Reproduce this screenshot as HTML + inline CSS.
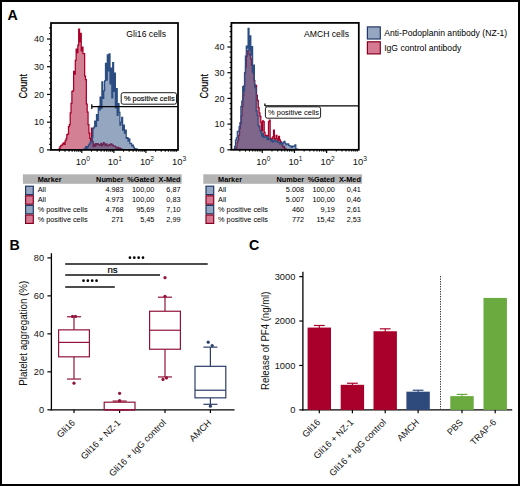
<!DOCTYPE html>
<html><head><meta charset="utf-8"><style>
html,body{margin:0;padding:0;background:#fff;}
body{width:520px;height:486px;overflow:hidden;}
svg{display:block;font-family:"Liberation Sans", sans-serif;}
text{fill:#000;}
text.th{fill:#111;}
text.bd{stroke:#000;stroke-width:0.2px;}
text.bd2{stroke:#000;stroke-width:0.12px;}
</style></head><body>
<svg width="520" height="486" viewBox="0 0 520 486">
<rect x="0" y="0" width="520" height="486" fill="#fff"/>
<clipPath id="cp10"><rect x="51.00" y="23.00" width="127.00" height="126.90"/></clipPath>
<g clip-path="url(#cp10)">
<path d="M51.50,149.60V149.60H52.35V149.60H53.20V149.60H54.05V149.60H54.90V149.60H55.75V149.60H56.60V149.60H57.45V149.60H58.30V149.60H59.15V148.28H60.00V146.68H60.85V145.29H61.70V145.16H62.55V143.99H63.40V142.85H64.25V144.39H65.10V140.78H65.95V138.93H66.80V134.69H67.65V134.20H68.50V126.66H69.35V124.55H70.20V112.86H71.05V103.25H71.90V91.39H72.75V90.91H73.60V71.34H74.45V74.12H75.30V60.31H76.15V49.06H77.00V52.50H77.85V45.03H78.70V29.05H79.55V41.65H80.40V33.47H81.25V50.92H82.10V47.08H82.95V53.65H83.80V53.66H84.65V76.21H85.50V79.74H86.35V104.14H87.20V112.01H88.05V124.73H88.90V133.18H89.75V138.32H90.60V140.64H91.45V128.19H92.30V141.40H93.15V146.63H94.00V144.14H94.85V146.07H95.70V143.60H96.55V144.59H97.40V143.60H98.25V144.74H99.10V144.96H99.95V145.30H100.80V143.36H101.65V145.87H102.50V144.30H103.35V142.51H104.20V144.07H105.05V145.66H105.90V143.88H106.75V145.16H107.60V145.58H108.45V145.42H109.30V144.45H110.15V144.89H111.00V143.80H111.85V144.89H112.70V145.38H113.55V146.11H114.40V146.05H115.25V146.63H116.10V147.79H116.95V148.32H117.80V147.27H118.65V149.18H119.50V148.03H120.35V148.57H121.20V149.27H122.05V149.37H122.90V149.60H123.75V149.60H124.60V149.60H125.45V149.60H126.30V149.60H127.15V149.60H128.00V149.60H128.85V149.60H129.70V149.60H130.55V149.60H131.40V149.60H132.25V149.60H133.10V149.60H133.95V149.60H134.80V149.60H135.65V149.60H136.50V149.60H137.35V149.60H138.20V149.60H139.05V149.60H139.90V149.60H140.75V149.60H141.60V149.60H142.45V149.60H143.30V149.60H144.15V149.60H145.00V149.60H145.85V149.60H146.70V149.60H147.55V149.60H148.40V149.60H149.25V149.60H150.10V149.60H150.95V149.60H151.80V149.60H152.65V149.60H153.50V149.60H154.35V149.60H155.20V149.60H156.05V149.60H156.90V149.60H157.75V149.60H158.60V149.60H159.45V149.60H160.30V149.60H161.15V149.60H162.00V149.60H162.85V149.60H163.70V149.60H164.55V149.60H165.40V149.60H166.25V149.60H167.10V149.60H167.95V149.60H168.80V149.60H169.65V149.60H170.50V149.60H171.35V149.60H172.20V149.60H173.05V149.60H173.90V149.60H174.75V149.60H175.60V149.60H176.45V149.60H177.30V149.60Z" fill="#a8002a" fill-opacity="0.5" stroke="#a8002a" stroke-width="1.25" stroke-linejoin="miter"/>
<path d="M51.50,149.60V149.60H52.40V149.60H53.30V149.60H54.20V149.60H55.10V149.60H56.00V149.60H56.90V149.60H57.80V149.60H58.70V149.60H59.60V149.60H60.50V149.60H61.40V149.60H62.30V149.60H63.20V149.60H64.10V149.60H65.00V149.60H65.90V149.60H66.80V149.60H67.70V149.60H68.60V149.60H69.50V149.60H70.40V149.60H71.30V149.60H72.20V149.60H73.10V149.60H74.00V149.60H74.90V149.60H75.80V149.60H76.70V149.60H77.60V149.60H78.50V149.60H79.40V149.60H80.30V149.60H81.20V149.60H82.10V149.60H83.00V149.60H83.90V149.20H84.80V148.45H85.70V146.66H86.60V148.09H87.50V146.72H88.40V145.08H89.30V143.94H90.20V141.95H91.10V142.20H92.00V137.04H92.90V128.71H93.80V127.10H94.70V121.15H95.60V126.45H96.50V114.74H97.40V120.36H98.30V106.26H99.20V110.22H100.10V97.18H101.00V108.31H101.90V81.75H102.80V98.40H103.70V90.90H104.60V80.78H105.50V63.49H106.40V80.01H107.30V54.89H108.20V70.84H109.10V53.93H110.00V83.81H110.90V68.21H111.80V97.87H112.70V62.71H113.60V91.48H114.50V73.23H115.40V107.76H116.30V88.68H117.20V115.42H118.10V103.52H119.00V112.39H119.90V125.17H120.80V122.37H121.70V117.31H122.60V130.01H123.50V125.04H124.40V133.12H125.30V130.19H126.20V138.45H127.10V137.55H128.00V141.15H128.90V138.90H129.80V143.58H130.70V143.33H131.60V145.95H132.50V145.19H133.40V147.11H134.30V148.78H135.20V148.69H136.10V149.17H137.00V149.38H137.90V149.60H138.80V149.60H139.70V149.60H140.60V149.60H141.50V149.60H142.40V149.60H143.30V149.60H144.20V149.60H145.10V149.60H146.00V149.60H146.90V149.60H147.80V149.60H148.70V149.60H149.60V149.60H150.50V149.60H151.40V149.60H152.30V149.60H153.20V149.60H154.10V149.60H155.00V149.60H155.90V149.60H156.80V149.60H157.70V149.60H158.60V149.60H159.50V149.60H160.40V149.60H161.30V149.60H162.20V149.60H163.10V149.60H164.00V149.60H164.90V149.60H165.80V149.60H166.70V149.60H167.60V149.60H168.50V149.60H169.40V149.60H170.30V149.60H171.20V149.60H172.10V149.60H173.00V149.60H173.90V149.60H174.80V149.60H175.70V149.60H176.60V149.60H177.50V149.60Z" fill="#2b4d81" fill-opacity="0.5" stroke="#2b4d81" stroke-width="1.25" stroke-linejoin="miter"/>
</g>
<rect x="51.00" y="23.00" width="127.00" height="126.90" fill="none" stroke="#000" stroke-width="1.75"/>
<line x1="47.00" y1="149.90" x2="51.00" y2="149.90" stroke="#000" stroke-width="1.2" />
<text x="44.10" y="153.10" font-size="9.0" text-anchor="end" font-weight="normal" class="th">0</text>
<line x1="49.20" y1="144.36" x2="51.00" y2="144.36" stroke="#000" stroke-width="1.1" />
<line x1="49.20" y1="138.81" x2="51.00" y2="138.81" stroke="#000" stroke-width="1.1" />
<line x1="49.20" y1="133.27" x2="51.00" y2="133.27" stroke="#000" stroke-width="1.1" />
<line x1="49.20" y1="127.72" x2="51.00" y2="127.72" stroke="#000" stroke-width="1.1" />
<line x1="47.00" y1="122.18" x2="51.00" y2="122.18" stroke="#000" stroke-width="1.2" />
<text x="44.10" y="125.38" font-size="9.0" text-anchor="end" font-weight="normal" class="th">10</text>
<line x1="49.20" y1="116.63" x2="51.00" y2="116.63" stroke="#000" stroke-width="1.1" />
<line x1="49.20" y1="111.09" x2="51.00" y2="111.09" stroke="#000" stroke-width="1.1" />
<line x1="49.20" y1="105.54" x2="51.00" y2="105.54" stroke="#000" stroke-width="1.1" />
<line x1="49.20" y1="100.00" x2="51.00" y2="100.00" stroke="#000" stroke-width="1.1" />
<line x1="47.00" y1="94.45" x2="51.00" y2="94.45" stroke="#000" stroke-width="1.2" />
<text x="44.10" y="97.65" font-size="9.0" text-anchor="end" font-weight="normal" class="th">20</text>
<line x1="49.20" y1="88.91" x2="51.00" y2="88.91" stroke="#000" stroke-width="1.1" />
<line x1="49.20" y1="83.36" x2="51.00" y2="83.36" stroke="#000" stroke-width="1.1" />
<line x1="49.20" y1="77.82" x2="51.00" y2="77.82" stroke="#000" stroke-width="1.1" />
<line x1="49.20" y1="72.27" x2="51.00" y2="72.27" stroke="#000" stroke-width="1.1" />
<line x1="47.00" y1="66.73" x2="51.00" y2="66.73" stroke="#000" stroke-width="1.2" />
<text x="44.10" y="69.93" font-size="9.0" text-anchor="end" font-weight="normal" class="th">30</text>
<line x1="49.20" y1="61.18" x2="51.00" y2="61.18" stroke="#000" stroke-width="1.1" />
<line x1="49.20" y1="55.64" x2="51.00" y2="55.64" stroke="#000" stroke-width="1.1" />
<line x1="49.20" y1="50.09" x2="51.00" y2="50.09" stroke="#000" stroke-width="1.1" />
<line x1="49.20" y1="44.55" x2="51.00" y2="44.55" stroke="#000" stroke-width="1.1" />
<line x1="47.00" y1="39.00" x2="51.00" y2="39.00" stroke="#000" stroke-width="1.2" />
<text x="44.10" y="42.20" font-size="9.0" text-anchor="end" font-weight="normal" class="th">40</text>
<line x1="49.20" y1="33.46" x2="51.00" y2="33.46" stroke="#000" stroke-width="1.1" />
<line x1="49.20" y1="27.91" x2="51.00" y2="27.91" stroke="#000" stroke-width="1.1" />
<line x1="59.39" y1="149.90" x2="59.39" y2="151.70" stroke="#000" stroke-width="1.1" />
<line x1="65.03" y1="149.90" x2="65.03" y2="151.70" stroke="#000" stroke-width="1.1" />
<line x1="69.04" y1="149.90" x2="69.04" y2="151.70" stroke="#000" stroke-width="1.1" />
<line x1="72.15" y1="149.90" x2="72.15" y2="151.70" stroke="#000" stroke-width="1.1" />
<line x1="74.69" y1="149.90" x2="74.69" y2="151.70" stroke="#000" stroke-width="1.1" />
<line x1="76.83" y1="149.90" x2="76.83" y2="151.70" stroke="#000" stroke-width="1.1" />
<line x1="78.69" y1="149.90" x2="78.69" y2="151.70" stroke="#000" stroke-width="1.1" />
<line x1="80.33" y1="149.90" x2="80.33" y2="151.70" stroke="#000" stroke-width="1.1" />
<line x1="81.80" y1="149.90" x2="81.80" y2="153.10" stroke="#000" stroke-width="1.2" />
<line x1="91.45" y1="149.90" x2="91.45" y2="151.70" stroke="#000" stroke-width="1.1" />
<line x1="97.10" y1="149.90" x2="97.10" y2="151.70" stroke="#000" stroke-width="1.1" />
<line x1="101.11" y1="149.90" x2="101.11" y2="151.70" stroke="#000" stroke-width="1.1" />
<line x1="104.21" y1="149.90" x2="104.21" y2="151.70" stroke="#000" stroke-width="1.1" />
<line x1="106.75" y1="149.90" x2="106.75" y2="151.70" stroke="#000" stroke-width="1.1" />
<line x1="108.90" y1="149.90" x2="108.90" y2="151.70" stroke="#000" stroke-width="1.1" />
<line x1="110.76" y1="149.90" x2="110.76" y2="151.70" stroke="#000" stroke-width="1.1" />
<line x1="112.40" y1="149.90" x2="112.40" y2="151.70" stroke="#000" stroke-width="1.1" />
<line x1="113.87" y1="149.90" x2="113.87" y2="153.10" stroke="#000" stroke-width="1.2" />
<line x1="123.52" y1="149.90" x2="123.52" y2="151.70" stroke="#000" stroke-width="1.1" />
<line x1="129.17" y1="149.90" x2="129.17" y2="151.70" stroke="#000" stroke-width="1.1" />
<line x1="133.17" y1="149.90" x2="133.17" y2="151.70" stroke="#000" stroke-width="1.1" />
<line x1="136.28" y1="149.90" x2="136.28" y2="151.70" stroke="#000" stroke-width="1.1" />
<line x1="138.82" y1="149.90" x2="138.82" y2="151.70" stroke="#000" stroke-width="1.1" />
<line x1="140.97" y1="149.90" x2="140.97" y2="151.70" stroke="#000" stroke-width="1.1" />
<line x1="142.83" y1="149.90" x2="142.83" y2="151.70" stroke="#000" stroke-width="1.1" />
<line x1="144.47" y1="149.90" x2="144.47" y2="151.70" stroke="#000" stroke-width="1.1" />
<line x1="145.93" y1="149.90" x2="145.93" y2="153.10" stroke="#000" stroke-width="1.2" />
<line x1="155.59" y1="149.90" x2="155.59" y2="151.70" stroke="#000" stroke-width="1.1" />
<line x1="161.23" y1="149.90" x2="161.23" y2="151.70" stroke="#000" stroke-width="1.1" />
<line x1="165.24" y1="149.90" x2="165.24" y2="151.70" stroke="#000" stroke-width="1.1" />
<line x1="168.35" y1="149.90" x2="168.35" y2="151.70" stroke="#000" stroke-width="1.1" />
<line x1="170.89" y1="149.90" x2="170.89" y2="151.70" stroke="#000" stroke-width="1.1" />
<line x1="173.03" y1="149.90" x2="173.03" y2="151.70" stroke="#000" stroke-width="1.1" />
<line x1="174.89" y1="149.90" x2="174.89" y2="151.70" stroke="#000" stroke-width="1.1" />
<line x1="176.53" y1="149.90" x2="176.53" y2="151.70" stroke="#000" stroke-width="1.1" />
<text x="82.80" y="164.80" font-size="9.4" text-anchor="middle" class="th">10<tspan font-size="6.6" dy="-4.0">0</tspan></text>
<text x="114.87" y="164.80" font-size="9.4" text-anchor="middle" class="th">10<tspan font-size="6.6" dy="-4.0">1</tspan></text>
<text x="146.93" y="164.80" font-size="9.4" text-anchor="middle" class="th">10<tspan font-size="6.6" dy="-4.0">2</tspan></text>
<text x="179.00" y="164.80" font-size="9.4" text-anchor="middle" class="th">10<tspan font-size="6.6" dy="-4.0">3</tspan></text>
<text transform="translate(27.40,86.30) rotate(-90) scale(0.85,1)" font-size="10.8" text-anchor="middle" class="bd">Count</text>
<text x="126.30" y="37.40" font-size="8.65" text-anchor="start" font-weight="normal" >Gli16 cells</text>
<clipPath id="cp20"><rect x="231.40" y="22.90" width="127.40" height="126.90"/></clipPath>
<g clip-path="url(#cp20)">
<path d="M231.90,149.60V149.60H232.75V149.60H233.60V149.60H234.45V149.60H235.30V148.68H236.15V147.52H237.00V142.66H237.85V140.24H238.70V135.26H239.55V128.42H240.40V123.61H241.25V115.89H242.10V106.87H242.95V95.65H243.80V85.89H244.65V73.16H245.50V67.04H246.35V56.34H247.20V50.95H248.05V50.61H248.90V54.05H249.75V55.15H250.60V58.93H251.45V65.03H252.30V71.00H253.15V72.51H254.00V80.74H254.85V86.82H255.70V85.33H256.55V95.40H257.40V100.33H258.25V107.61H259.10V112.90H259.95V116.37H260.80V122.48H261.65V130.93H262.50V120.75H263.35V121.65H264.20V132.36H265.05V135.92H265.90V135.32H266.75V135.50H267.60V136.16H268.45V121.90H269.30V120.00H270.15V138.16H271.00V139.25H271.85V138.67H272.70V136.84H273.55V130.09H274.40V139.02H275.25V138.64H276.10V135.36H276.95V138.79H277.80V140.69H278.65V136.29H279.50V139.86H280.35V141.66H281.20V142.64H282.05V145.92H282.90V147.01H283.75V146.45H284.60V148.42H285.45V148.77H286.30V149.51H287.15V149.60H288.00V149.60H288.85V149.60H289.70V149.60H290.55V149.60H291.40V149.60H292.25V149.60H293.10V149.60H293.95V149.60H294.80V149.60H295.65V149.60H296.50V149.60H297.35V149.60H298.20V149.60H299.05V149.60H299.90V149.60H300.75V149.60H301.60V149.60H302.45V149.60H303.30V149.60H304.15V149.60H305.00V149.60H305.85V149.60H306.70V149.60H307.55V149.60H308.40V149.60H309.25V149.60H310.10V149.60H310.95V149.60H311.80V149.60H312.65V149.60H313.50V149.60H314.35V149.60H315.20V149.60H316.05V149.60H316.90V149.60H317.75V149.60H318.60V149.60H319.45V149.60H320.30V149.60H321.15V149.60H322.00V149.60H322.85V149.60H323.70V149.60H324.55V149.60H325.40V149.60H326.25V149.60H327.10V149.60H327.95V149.60H328.80V149.60H329.65V149.60H330.50V149.60H331.35V149.60H332.20V149.60H333.05V149.60H333.90V149.60H334.75V149.60H335.60V149.60H336.45V149.60H337.30V149.60H338.15V149.60H339.00V149.60H339.85V149.60H340.70V149.60H341.55V149.60H342.40V149.60H343.25V149.60H344.10V149.60H344.95V149.60H345.80V149.60H346.65V149.60H347.50V149.60H348.35V149.60H349.20V149.60H350.05V149.60H350.90V149.60H351.75V149.60H352.60V149.60H353.45V149.60H354.30V149.60H355.15V149.60H356.00V149.60H356.85V149.60H357.70V149.60H358.55V149.60Z" fill="#a8002a" fill-opacity="0.5" stroke="#a8002a" stroke-width="1.25" stroke-linejoin="miter"/>
<path d="M231.90,149.60V149.60H232.80V149.60H233.70V149.34H234.60V146.42H235.50V140.03H236.40V137.85H237.30V131.70H238.20V131.03H239.10V126.63H240.00V122.71H240.90V106.44H241.80V101.17H242.70V86.66H243.60V91.19H244.50V72.99H245.40V56.22H246.30V46.18H247.20V48.15H248.10V28.49H249.00V50.13H249.90V35.97H250.80V55.13H251.70V46.58H252.60V72.52H253.50V65.05H254.40V84.92H255.30V87.89H256.20V110.86H257.10V115.14H258.00V125.37H258.90V126.66H259.80V130.30H260.70V132.25H261.60V136.00H262.50V133.69H263.40V137.42H264.30V136.97H265.20V136.85H266.10V136.69H267.00V139.51H267.90V137.41H268.80V139.43H269.70V139.29H270.60V140.75H271.50V140.07H272.40V142.23H273.30V141.03H274.20V140.24H275.10V140.47H276.00V141.73H276.90V141.70H277.80V142.44H278.70V142.27H279.60V143.95H280.50V142.83H281.40V143.96H282.30V144.18H283.20V142.01H284.10V141.29H285.00V143.28H285.90V144.55H286.80V144.07H287.70V143.99H288.60V145.36H289.50V145.88H290.40V146.13H291.30V147.34H292.20V146.14H293.10V146.38H294.00V146.17H294.90V144.83H295.80V149.02H296.70V149.13H297.60V149.60H298.50V149.60H299.40V149.60H300.30V149.60H301.20V149.60H302.10V149.60H303.00V149.60H303.90V149.60H304.80V149.60H305.70V149.60H306.60V149.60H307.50V149.60H308.40V149.60H309.30V149.60H310.20V149.60H311.10V149.60H312.00V149.60H312.90V149.60H313.80V149.60H314.70V149.60H315.60V149.60H316.50V149.60H317.40V149.60H318.30V149.60H319.20V149.60H320.10V149.60H321.00V149.60H321.90V149.60H322.80V149.60H323.70V149.60H324.60V149.60H325.50V149.60H326.40V149.60H327.30V149.60H328.20V149.60H329.10V149.60H330.00V149.60H330.90V149.60H331.80V149.60H332.70V149.60H333.60V149.60H334.50V149.60H335.40V149.60H336.30V149.60H337.20V149.60H338.10V149.60H339.00V149.60H339.90V149.60H340.80V149.60H341.70V149.60H342.60V149.60H343.50V149.60H344.40V149.60H345.30V149.60H346.20V149.60H347.10V149.60H348.00V149.60H348.90V149.60H349.80V149.60H350.70V149.60H351.60V149.60H352.50V149.60H353.40V149.60H354.30V149.60H355.20V149.60H356.10V149.60H357.00V149.60H357.90V149.60Z" fill="#2b4d81" fill-opacity="0.5" stroke="#2b4d81" stroke-width="1.25" stroke-linejoin="miter"/>
</g>
<rect x="231.40" y="22.90" width="127.40" height="126.90" fill="none" stroke="#000" stroke-width="1.75"/>
<line x1="227.40" y1="149.80" x2="231.40" y2="149.80" stroke="#000" stroke-width="1.2" />
<text x="224.50" y="153.00" font-size="9.0" text-anchor="end" font-weight="normal" class="th">0</text>
<line x1="229.60" y1="144.66" x2="231.40" y2="144.66" stroke="#000" stroke-width="1.1" />
<line x1="229.60" y1="139.52" x2="231.40" y2="139.52" stroke="#000" stroke-width="1.1" />
<line x1="229.60" y1="134.38" x2="231.40" y2="134.38" stroke="#000" stroke-width="1.1" />
<line x1="229.60" y1="129.24" x2="231.40" y2="129.24" stroke="#000" stroke-width="1.1" />
<line x1="227.40" y1="124.10" x2="231.40" y2="124.10" stroke="#000" stroke-width="1.2" />
<text x="224.50" y="127.30" font-size="9.0" text-anchor="end" font-weight="normal" class="th">10</text>
<line x1="229.60" y1="118.96" x2="231.40" y2="118.96" stroke="#000" stroke-width="1.1" />
<line x1="229.60" y1="113.82" x2="231.40" y2="113.82" stroke="#000" stroke-width="1.1" />
<line x1="229.60" y1="108.68" x2="231.40" y2="108.68" stroke="#000" stroke-width="1.1" />
<line x1="229.60" y1="103.54" x2="231.40" y2="103.54" stroke="#000" stroke-width="1.1" />
<line x1="227.40" y1="98.40" x2="231.40" y2="98.40" stroke="#000" stroke-width="1.2" />
<text x="224.50" y="101.60" font-size="9.0" text-anchor="end" font-weight="normal" class="th">20</text>
<line x1="229.60" y1="93.26" x2="231.40" y2="93.26" stroke="#000" stroke-width="1.1" />
<line x1="229.60" y1="88.12" x2="231.40" y2="88.12" stroke="#000" stroke-width="1.1" />
<line x1="229.60" y1="82.98" x2="231.40" y2="82.98" stroke="#000" stroke-width="1.1" />
<line x1="229.60" y1="77.84" x2="231.40" y2="77.84" stroke="#000" stroke-width="1.1" />
<line x1="227.40" y1="72.70" x2="231.40" y2="72.70" stroke="#000" stroke-width="1.2" />
<text x="224.50" y="75.90" font-size="9.0" text-anchor="end" font-weight="normal" class="th">30</text>
<line x1="229.60" y1="67.56" x2="231.40" y2="67.56" stroke="#000" stroke-width="1.1" />
<line x1="229.60" y1="62.42" x2="231.40" y2="62.42" stroke="#000" stroke-width="1.1" />
<line x1="229.60" y1="57.28" x2="231.40" y2="57.28" stroke="#000" stroke-width="1.1" />
<line x1="229.60" y1="52.14" x2="231.40" y2="52.14" stroke="#000" stroke-width="1.1" />
<line x1="227.40" y1="47.00" x2="231.40" y2="47.00" stroke="#000" stroke-width="1.2" />
<text x="224.50" y="50.20" font-size="9.0" text-anchor="end" font-weight="normal" class="th">40</text>
<line x1="229.60" y1="41.86" x2="231.40" y2="41.86" stroke="#000" stroke-width="1.1" />
<line x1="229.60" y1="36.72" x2="231.40" y2="36.72" stroke="#000" stroke-width="1.1" />
<line x1="229.60" y1="31.58" x2="231.40" y2="31.58" stroke="#000" stroke-width="1.1" />
<line x1="229.60" y1="26.44" x2="231.40" y2="26.44" stroke="#000" stroke-width="1.1" />
<line x1="239.82" y1="149.80" x2="239.82" y2="151.60" stroke="#000" stroke-width="1.1" />
<line x1="245.48" y1="149.80" x2="245.48" y2="151.60" stroke="#000" stroke-width="1.1" />
<line x1="249.50" y1="149.80" x2="249.50" y2="151.60" stroke="#000" stroke-width="1.1" />
<line x1="252.62" y1="149.80" x2="252.62" y2="151.60" stroke="#000" stroke-width="1.1" />
<line x1="255.16" y1="149.80" x2="255.16" y2="151.60" stroke="#000" stroke-width="1.1" />
<line x1="257.32" y1="149.80" x2="257.32" y2="151.60" stroke="#000" stroke-width="1.1" />
<line x1="259.18" y1="149.80" x2="259.18" y2="151.60" stroke="#000" stroke-width="1.1" />
<line x1="260.83" y1="149.80" x2="260.83" y2="151.60" stroke="#000" stroke-width="1.1" />
<line x1="262.30" y1="149.80" x2="262.30" y2="153.00" stroke="#000" stroke-width="1.2" />
<line x1="271.98" y1="149.80" x2="271.98" y2="151.60" stroke="#000" stroke-width="1.1" />
<line x1="277.65" y1="149.80" x2="277.65" y2="151.60" stroke="#000" stroke-width="1.1" />
<line x1="281.67" y1="149.80" x2="281.67" y2="151.60" stroke="#000" stroke-width="1.1" />
<line x1="284.78" y1="149.80" x2="284.78" y2="151.60" stroke="#000" stroke-width="1.1" />
<line x1="287.33" y1="149.80" x2="287.33" y2="151.60" stroke="#000" stroke-width="1.1" />
<line x1="289.48" y1="149.80" x2="289.48" y2="151.60" stroke="#000" stroke-width="1.1" />
<line x1="291.35" y1="149.80" x2="291.35" y2="151.60" stroke="#000" stroke-width="1.1" />
<line x1="292.99" y1="149.80" x2="292.99" y2="151.60" stroke="#000" stroke-width="1.1" />
<line x1="294.47" y1="149.80" x2="294.47" y2="153.00" stroke="#000" stroke-width="1.2" />
<line x1="304.15" y1="149.80" x2="304.15" y2="151.60" stroke="#000" stroke-width="1.1" />
<line x1="309.81" y1="149.80" x2="309.81" y2="151.60" stroke="#000" stroke-width="1.1" />
<line x1="313.83" y1="149.80" x2="313.83" y2="151.60" stroke="#000" stroke-width="1.1" />
<line x1="316.95" y1="149.80" x2="316.95" y2="151.60" stroke="#000" stroke-width="1.1" />
<line x1="319.50" y1="149.80" x2="319.50" y2="151.60" stroke="#000" stroke-width="1.1" />
<line x1="321.65" y1="149.80" x2="321.65" y2="151.60" stroke="#000" stroke-width="1.1" />
<line x1="323.52" y1="149.80" x2="323.52" y2="151.60" stroke="#000" stroke-width="1.1" />
<line x1="325.16" y1="149.80" x2="325.16" y2="151.60" stroke="#000" stroke-width="1.1" />
<line x1="326.63" y1="149.80" x2="326.63" y2="153.00" stroke="#000" stroke-width="1.2" />
<line x1="336.32" y1="149.80" x2="336.32" y2="151.60" stroke="#000" stroke-width="1.1" />
<line x1="341.98" y1="149.80" x2="341.98" y2="151.60" stroke="#000" stroke-width="1.1" />
<line x1="346.00" y1="149.80" x2="346.00" y2="151.60" stroke="#000" stroke-width="1.1" />
<line x1="349.12" y1="149.80" x2="349.12" y2="151.60" stroke="#000" stroke-width="1.1" />
<line x1="351.66" y1="149.80" x2="351.66" y2="151.60" stroke="#000" stroke-width="1.1" />
<line x1="353.82" y1="149.80" x2="353.82" y2="151.60" stroke="#000" stroke-width="1.1" />
<line x1="355.68" y1="149.80" x2="355.68" y2="151.60" stroke="#000" stroke-width="1.1" />
<line x1="357.33" y1="149.80" x2="357.33" y2="151.60" stroke="#000" stroke-width="1.1" />
<text x="263.30" y="164.80" font-size="9.4" text-anchor="middle" class="th">10<tspan font-size="6.6" dy="-4.0">0</tspan></text>
<text x="295.47" y="164.80" font-size="9.4" text-anchor="middle" class="th">10<tspan font-size="6.6" dy="-4.0">1</tspan></text>
<text x="327.63" y="164.80" font-size="9.4" text-anchor="middle" class="th">10<tspan font-size="6.6" dy="-4.0">2</tspan></text>
<text x="359.80" y="164.80" font-size="9.4" text-anchor="middle" class="th">10<tspan font-size="6.6" dy="-4.0">3</tspan></text>
<text transform="translate(207.80,86.30) rotate(-90) scale(0.85,1)" font-size="10.8" text-anchor="middle" class="bd">Count</text>
<text x="304.00" y="37.40" font-size="8.65" text-anchor="start" font-weight="normal" >AMCH cells</text>
<line x1="91.80" y1="106.60" x2="177.70" y2="106.60" stroke="#000" stroke-width="1.2" />
<line x1="91.80" y1="104.30" x2="91.80" y2="109.00" stroke="#000" stroke-width="1.2" />
<rect x="121.20" y="92.70" width="55.30" height="11.50" rx="2" ry="2" fill="#fff" stroke="#000" stroke-width="0.9"/>
<text x="123.90" y="101.20" font-size="7.45" text-anchor="start" font-weight="normal" class="bd2">% positive cells</text>
<line x1="264.90" y1="105.90" x2="358.20" y2="105.90" stroke="#000" stroke-width="1.2" />
<line x1="264.90" y1="103.40" x2="264.90" y2="105.90" stroke="#000" stroke-width="1.2" />
<rect x="265.40" y="106.80" width="55.20" height="11.40" rx="2" ry="2" fill="#fff" stroke="#000" stroke-width="0.9"/>
<text x="268.10" y="115.20" font-size="7.45" text-anchor="start" font-weight="normal" >% positive cells</text>
<rect x="367.4" y="26.9" width="12.9" height="12.1" fill="#95a6c0" stroke="#23386a" stroke-width="1.2"/>
<rect x="367.4" y="41.8" width="12.9" height="12.1" fill="#d57a92" stroke="#86001f" stroke-width="1.2"/>
<text x="384.20" y="36.30" font-size="8.62" text-anchor="start" font-weight="normal" >Anti-Podoplanin antibody (NZ-1)</text>
<text x="384.20" y="51.00" font-size="8.62" text-anchor="start" font-weight="normal" >IgG control antibody</text>
<rect x="22.90" y="174.3" width="158.8" height="9.5" fill="#b3b3b3"/>
<text x="37.70" y="181.90" font-size="7.3" text-anchor="start" font-weight="bold" >Marker</text>
<text x="123.70" y="181.90" font-size="7.3" text-anchor="end" font-weight="bold" >Number</text>
<text x="154.40" y="181.90" font-size="7.3" text-anchor="end" font-weight="bold" >%Gated</text>
<text x="180.50" y="181.90" font-size="7.3" text-anchor="end" font-weight="bold" >X-Med</text>
<rect x="25.60" y="186.20" width="7.7" height="8.4" fill="#95a6c0" stroke="#23386a" stroke-width="1.2"/>
<text x="37.70" y="192.40" font-size="7.3" text-anchor="start" font-weight="normal" >All</text>
<text x="123.70" y="192.40" font-size="7.3" text-anchor="end" font-weight="normal" >4.983</text>
<text x="154.40" y="192.40" font-size="7.3" text-anchor="end" font-weight="normal" >100,00</text>
<text x="180.50" y="192.40" font-size="7.3" text-anchor="end" font-weight="normal" >6,87</text>
<rect x="25.60" y="195.80" width="7.7" height="8.4" fill="#d57a92" stroke="#86001f" stroke-width="1.2"/>
<text x="37.70" y="202.25" font-size="7.3" text-anchor="start" font-weight="normal" >All</text>
<text x="123.70" y="202.25" font-size="7.3" text-anchor="end" font-weight="normal" >4.973</text>
<text x="154.40" y="202.25" font-size="7.3" text-anchor="end" font-weight="normal" >100,00</text>
<text x="180.50" y="202.25" font-size="7.3" text-anchor="end" font-weight="normal" >0,83</text>
<rect x="25.60" y="205.40" width="7.7" height="8.4" fill="#95a6c0" stroke="#23386a" stroke-width="1.2"/>
<text x="37.70" y="212.10" font-size="7.3" text-anchor="start" font-weight="normal" >% positive cells</text>
<text x="123.70" y="212.10" font-size="7.3" text-anchor="end" font-weight="normal" >4.768</text>
<text x="154.40" y="212.10" font-size="7.3" text-anchor="end" font-weight="normal" >95,69</text>
<text x="180.50" y="212.10" font-size="7.3" text-anchor="end" font-weight="normal" >7,10</text>
<rect x="25.60" y="215.00" width="7.7" height="8.4" fill="#d57a92" stroke="#86001f" stroke-width="1.2"/>
<text x="37.70" y="221.95" font-size="7.3" text-anchor="start" font-weight="normal" >% positive cells</text>
<text x="123.70" y="221.95" font-size="7.3" text-anchor="end" font-weight="normal" >271</text>
<text x="154.40" y="221.95" font-size="7.3" text-anchor="end" font-weight="normal" >5,45</text>
<text x="180.50" y="221.95" font-size="7.3" text-anchor="end" font-weight="normal" >2,99</text>
<rect x="203.30" y="174.3" width="158.8" height="9.5" fill="#b3b3b3"/>
<text x="218.10" y="181.90" font-size="7.3" text-anchor="start" font-weight="bold" >Marker</text>
<text x="304.10" y="181.90" font-size="7.3" text-anchor="end" font-weight="bold" >Number</text>
<text x="334.80" y="181.90" font-size="7.3" text-anchor="end" font-weight="bold" >%Gated</text>
<text x="360.90" y="181.90" font-size="7.3" text-anchor="end" font-weight="bold" >X-Med</text>
<rect x="206.00" y="186.20" width="7.7" height="8.4" fill="#95a6c0" stroke="#23386a" stroke-width="1.2"/>
<text x="218.10" y="192.40" font-size="7.3" text-anchor="start" font-weight="normal" >All</text>
<text x="304.10" y="192.40" font-size="7.3" text-anchor="end" font-weight="normal" >5.008</text>
<text x="334.80" y="192.40" font-size="7.3" text-anchor="end" font-weight="normal" >100,00</text>
<text x="360.90" y="192.40" font-size="7.3" text-anchor="end" font-weight="normal" >0,41</text>
<rect x="206.00" y="195.80" width="7.7" height="8.4" fill="#d57a92" stroke="#86001f" stroke-width="1.2"/>
<text x="218.10" y="202.25" font-size="7.3" text-anchor="start" font-weight="normal" >All</text>
<text x="304.10" y="202.25" font-size="7.3" text-anchor="end" font-weight="normal" >5.007</text>
<text x="334.80" y="202.25" font-size="7.3" text-anchor="end" font-weight="normal" >100,00</text>
<text x="360.90" y="202.25" font-size="7.3" text-anchor="end" font-weight="normal" >0,46</text>
<rect x="206.00" y="205.40" width="7.7" height="8.4" fill="#95a6c0" stroke="#23386a" stroke-width="1.2"/>
<text x="218.10" y="212.10" font-size="7.3" text-anchor="start" font-weight="normal" >% positive cells</text>
<text x="304.10" y="212.10" font-size="7.3" text-anchor="end" font-weight="normal" >460</text>
<text x="334.80" y="212.10" font-size="7.3" text-anchor="end" font-weight="normal" >9,19</text>
<text x="360.90" y="212.10" font-size="7.3" text-anchor="end" font-weight="normal" >2,61</text>
<rect x="206.00" y="215.00" width="7.7" height="8.4" fill="#d57a92" stroke="#86001f" stroke-width="1.2"/>
<text x="218.10" y="221.95" font-size="7.3" text-anchor="start" font-weight="normal" >% positive cells</text>
<text x="304.10" y="221.95" font-size="7.3" text-anchor="end" font-weight="normal" >772</text>
<text x="334.80" y="221.95" font-size="7.3" text-anchor="end" font-weight="normal" >15,42</text>
<text x="360.90" y="221.95" font-size="7.3" text-anchor="end" font-weight="normal" >2,53</text>
<text x="7.60" y="19.90" font-size="14.2" text-anchor="start" font-weight="bold" >A</text>
<text x="9.40" y="250.30" font-size="14.2" text-anchor="start" font-weight="bold" >B</text>
<text x="249.00" y="250.00" font-size="14.2" text-anchor="start" font-weight="bold" >C</text>
<line x1="51.40" y1="253.20" x2="51.40" y2="410.45" stroke="#000" stroke-width="1.3" />
<line x1="50.75" y1="409.80" x2="234.50" y2="409.80" stroke="#000" stroke-width="1.3" />
<line x1="47.40" y1="409.80" x2="51.40" y2="409.80" stroke="#000" stroke-width="1.2" />
<text x="44.00" y="413.10" font-size="9.2" text-anchor="end" font-weight="normal" class="th">0</text>
<line x1="47.40" y1="371.82" x2="51.40" y2="371.82" stroke="#000" stroke-width="1.2" />
<text x="44.00" y="375.12" font-size="9.2" text-anchor="end" font-weight="normal" class="th">20</text>
<line x1="47.40" y1="333.85" x2="51.40" y2="333.85" stroke="#000" stroke-width="1.2" />
<text x="44.00" y="337.15" font-size="9.2" text-anchor="end" font-weight="normal" class="th">40</text>
<line x1="47.40" y1="295.88" x2="51.40" y2="295.88" stroke="#000" stroke-width="1.2" />
<text x="44.00" y="299.18" font-size="9.2" text-anchor="end" font-weight="normal" class="th">60</text>
<line x1="47.40" y1="257.90" x2="51.40" y2="257.90" stroke="#000" stroke-width="1.2" />
<text x="44.00" y="261.20" font-size="9.2" text-anchor="end" font-weight="normal" class="th">80</text>
<text transform="translate(27.4,333.2) rotate(-90) scale(0.89,1)" font-size="11" text-anchor="middle" class="th">Platelet aggregation (%)</text>
<line x1="74.00" y1="409.80" x2="74.00" y2="413.10" stroke="#000" stroke-width="1.2" />
<text transform="translate(75.60,423.30) rotate(-45)" font-size="9.1" text-anchor="end" class="th">Gli16</text>
<line x1="119.60" y1="409.80" x2="119.60" y2="413.10" stroke="#000" stroke-width="1.2" />
<text transform="translate(121.20,423.30) rotate(-45)" font-size="9.1" text-anchor="end" class="th">Gli16 + NZ-1</text>
<line x1="165.00" y1="409.80" x2="165.00" y2="413.10" stroke="#000" stroke-width="1.2" />
<text transform="translate(166.60,423.30) rotate(-45)" font-size="9.1" text-anchor="end" class="th">Gli16 + IgG control</text>
<line x1="210.40" y1="409.80" x2="210.40" y2="413.10" stroke="#000" stroke-width="1.2" />
<text transform="translate(212.00,423.30) rotate(-45)" font-size="9.1" text-anchor="end" class="th">AMCH</text>
<line x1="74.00" y1="329.86" x2="74.00" y2="316.76" stroke="#92133a" stroke-width="1.2" />
<line x1="74.00" y1="356.82" x2="74.00" y2="379.04" stroke="#92133a" stroke-width="1.2" />
<line x1="67.00" y1="316.76" x2="81.00" y2="316.76" stroke="#92133a" stroke-width="1.2" />
<line x1="67.00" y1="379.04" x2="81.00" y2="379.04" stroke="#92133a" stroke-width="1.2" />
<rect x="58.60" y="329.86" width="30.80" height="26.96" fill="none" stroke="#92133a" stroke-width="1.2"/>
<line x1="58.60" y1="342.39" x2="89.40" y2="342.39" stroke="#92133a" stroke-width="1.2" />
<circle cx="74.00" cy="383.22" r="1.6" fill="#92133a"/>
<circle cx="72.50" cy="316.38" r="1.6" fill="#92133a"/>
<circle cx="75.50" cy="316.38" r="1.6" fill="#92133a"/>
<line x1="119.60" y1="402.20" x2="119.60" y2="401.07" stroke="#92133a" stroke-width="1.2" />
<line x1="119.60" y1="409.80" x2="119.60" y2="409.80" stroke="#92133a" stroke-width="1.2" />
<line x1="112.60" y1="401.07" x2="126.60" y2="401.07" stroke="#92133a" stroke-width="1.2" />
<line x1="112.60" y1="409.80" x2="126.60" y2="409.80" stroke="#92133a" stroke-width="1.2" />
<rect x="104.20" y="402.20" width="30.80" height="7.60" fill="none" stroke="#92133a" stroke-width="1.2"/>
<line x1="104.20" y1="409.80" x2="135.00" y2="409.80" stroke="#92133a" stroke-width="1.2" />
<circle cx="119.60" cy="393.28" r="1.6" fill="#92133a"/>
<circle cx="119.60" cy="400.50" r="1.6" fill="#92133a"/>
<line x1="165.00" y1="311.25" x2="165.00" y2="297.20" stroke="#92133a" stroke-width="1.2" />
<line x1="165.00" y1="349.23" x2="165.00" y2="376.95" stroke="#92133a" stroke-width="1.2" />
<line x1="158.00" y1="297.20" x2="172.00" y2="297.20" stroke="#92133a" stroke-width="1.2" />
<line x1="158.00" y1="376.95" x2="172.00" y2="376.95" stroke="#92133a" stroke-width="1.2" />
<rect x="149.60" y="311.25" width="30.80" height="37.98" fill="none" stroke="#92133a" stroke-width="1.2"/>
<line x1="149.60" y1="330.24" x2="180.40" y2="330.24" stroke="#92133a" stroke-width="1.2" />
<circle cx="165.00" cy="277.65" r="1.6" fill="#92133a"/>
<circle cx="165.00" cy="296.25" r="1.6" fill="#92133a"/>
<circle cx="163.00" cy="379.42" r="1.6" fill="#92133a"/>
<circle cx="166.50" cy="377.90" r="1.6" fill="#92133a"/>
<line x1="210.40" y1="366.32" x2="210.40" y2="347.14" stroke="#2b3d69" stroke-width="1.2" />
<line x1="210.40" y1="397.84" x2="210.40" y2="404.29" stroke="#2b3d69" stroke-width="1.2" />
<line x1="203.40" y1="347.14" x2="217.40" y2="347.14" stroke="#2b3d69" stroke-width="1.2" />
<line x1="203.40" y1="404.29" x2="217.40" y2="404.29" stroke="#2b3d69" stroke-width="1.2" />
<rect x="195.00" y="366.32" width="30.80" height="31.52" fill="none" stroke="#2b3d69" stroke-width="1.2"/>
<line x1="195.00" y1="390.24" x2="225.80" y2="390.24" stroke="#2b3d69" stroke-width="1.2" />
<circle cx="208.20" cy="342.20" r="1.6" fill="#2b3d69"/>
<circle cx="212.20" cy="345.62" r="1.6" fill="#2b3d69"/>
<circle cx="210.40" cy="406.19" r="1.6" fill="#2b3d69"/>
<line x1="65.20" y1="263.90" x2="207.70" y2="263.90" stroke="#111" stroke-width="1.45" />
<circle cx="129.95" cy="257.70" r="1.35" fill="#000"/>
<circle cx="134.30" cy="257.70" r="1.35" fill="#000"/>
<circle cx="138.65" cy="257.70" r="1.35" fill="#000"/>
<circle cx="143.00" cy="257.70" r="1.35" fill="#000"/>
<line x1="65.20" y1="274.90" x2="160.00" y2="274.90" stroke="#111" stroke-width="1.45" />
<text x="112.60" y="272.70" font-size="9.6" text-anchor="middle" font-weight="normal" class="bd">ns</text>
<line x1="65.20" y1="286.90" x2="114.80" y2="286.90" stroke="#111" stroke-width="1.45" />
<circle cx="83.50" cy="280.70" r="1.35" fill="#000"/>
<circle cx="87.85" cy="280.70" r="1.35" fill="#000"/>
<circle cx="92.20" cy="280.70" r="1.35" fill="#000"/>
<circle cx="96.55" cy="280.70" r="1.35" fill="#000"/>
<line x1="302.90" y1="271.80" x2="302.90" y2="410.55" stroke="#000" stroke-width="1.3" />
<line x1="302.25" y1="409.90" x2="512.20" y2="409.90" stroke="#000" stroke-width="1.3" />
<line x1="299.30" y1="409.90" x2="302.90" y2="409.90" stroke="#000" stroke-width="1.2" />
<text x="295.40" y="413.20" font-size="9.3" text-anchor="end" font-weight="normal" class="th">0</text>
<line x1="299.30" y1="365.47" x2="302.90" y2="365.47" stroke="#000" stroke-width="1.2" />
<text x="295.40" y="368.77" font-size="9.3" text-anchor="end" font-weight="normal" class="th">1000</text>
<line x1="299.30" y1="321.03" x2="302.90" y2="321.03" stroke="#000" stroke-width="1.2" />
<text x="295.40" y="324.33" font-size="9.3" text-anchor="end" font-weight="normal" class="th">2000</text>
<line x1="299.30" y1="276.60" x2="302.90" y2="276.60" stroke="#000" stroke-width="1.2" />
<text x="295.40" y="279.90" font-size="9.3" text-anchor="end" font-weight="normal" class="th">3000</text>
<text transform="translate(268.7,340.8) rotate(-90) scale(0.88,1)" font-size="10.9" text-anchor="middle" class="th">Release of PF4 (ng/ml)</text>
<rect x="307.60" y="327.57" width="23.4" height="82.33" fill="#a8002a"/>
<line x1="319.30" y1="325.48" x2="319.30" y2="328.57" stroke="#a8002a" stroke-width="1.1" />
<line x1="313.90" y1="325.48" x2="324.70" y2="325.48" stroke="#a8002a" stroke-width="1.2" />
<line x1="319.30" y1="409.90" x2="319.30" y2="413.20" stroke="#000" stroke-width="1.2" />
<text transform="translate(320.90,422.90) rotate(-45)" font-size="9.1" text-anchor="end" class="th">Gli16</text>
<rect x="340.70" y="384.80" width="23.4" height="25.10" fill="#a8002a"/>
<line x1="352.40" y1="383.24" x2="352.40" y2="385.80" stroke="#a8002a" stroke-width="1.1" />
<line x1="347.00" y1="383.24" x2="357.80" y2="383.24" stroke="#a8002a" stroke-width="1.2" />
<line x1="352.40" y1="409.90" x2="352.40" y2="413.20" stroke="#000" stroke-width="1.2" />
<text transform="translate(354.00,422.90) rotate(-45)" font-size="9.1" text-anchor="end" class="th">Gli16 + NZ-1</text>
<rect x="373.50" y="331.25" width="23.4" height="78.65" fill="#a8002a"/>
<line x1="385.20" y1="328.85" x2="385.20" y2="332.25" stroke="#a8002a" stroke-width="1.1" />
<line x1="379.80" y1="328.85" x2="390.60" y2="328.85" stroke="#a8002a" stroke-width="1.2" />
<line x1="385.20" y1="409.90" x2="385.20" y2="413.20" stroke="#000" stroke-width="1.2" />
<text transform="translate(386.80,422.90) rotate(-45)" font-size="9.1" text-anchor="end" class="th">Gli16 + IgG control</text>
<rect x="406.40" y="391.68" width="23.4" height="18.22" fill="#2e4a7c"/>
<line x1="418.10" y1="390.22" x2="418.10" y2="392.68" stroke="#2e4a7c" stroke-width="1.1" />
<line x1="412.70" y1="390.22" x2="423.50" y2="390.22" stroke="#2e4a7c" stroke-width="1.2" />
<line x1="418.10" y1="409.90" x2="418.10" y2="413.20" stroke="#000" stroke-width="1.2" />
<text transform="translate(419.70,422.90) rotate(-45)" font-size="9.1" text-anchor="end" class="th">AMCH</text>
<rect x="450.30" y="396.13" width="23.4" height="13.77" fill="#6aaa3e"/>
<line x1="462.00" y1="394.39" x2="462.00" y2="397.13" stroke="#6aaa3e" stroke-width="1.1" />
<line x1="456.60" y1="394.39" x2="467.40" y2="394.39" stroke="#6aaa3e" stroke-width="1.2" />
<line x1="462.00" y1="409.90" x2="462.00" y2="413.20" stroke="#000" stroke-width="1.2" />
<text transform="translate(463.60,422.90) rotate(-45)" font-size="9.1" text-anchor="end" class="th">PBS</text>
<rect x="483.50" y="297.93" width="23.4" height="111.97" fill="#6aaa3e"/>
<line x1="495.20" y1="409.90" x2="495.20" y2="413.20" stroke="#000" stroke-width="1.2" />
<text transform="translate(496.80,422.90) rotate(-45)" font-size="9.1" text-anchor="end" class="th">TRAP-6</text>
<line x1="440.50" y1="276.00" x2="440.50" y2="409.30" stroke="#333" stroke-width="1.0" stroke-dasharray="1.3,1.2"/>
<rect x="1" y="1" width="518" height="484" fill="none" stroke="#000" stroke-width="2"/>
</svg>
</body></html>
